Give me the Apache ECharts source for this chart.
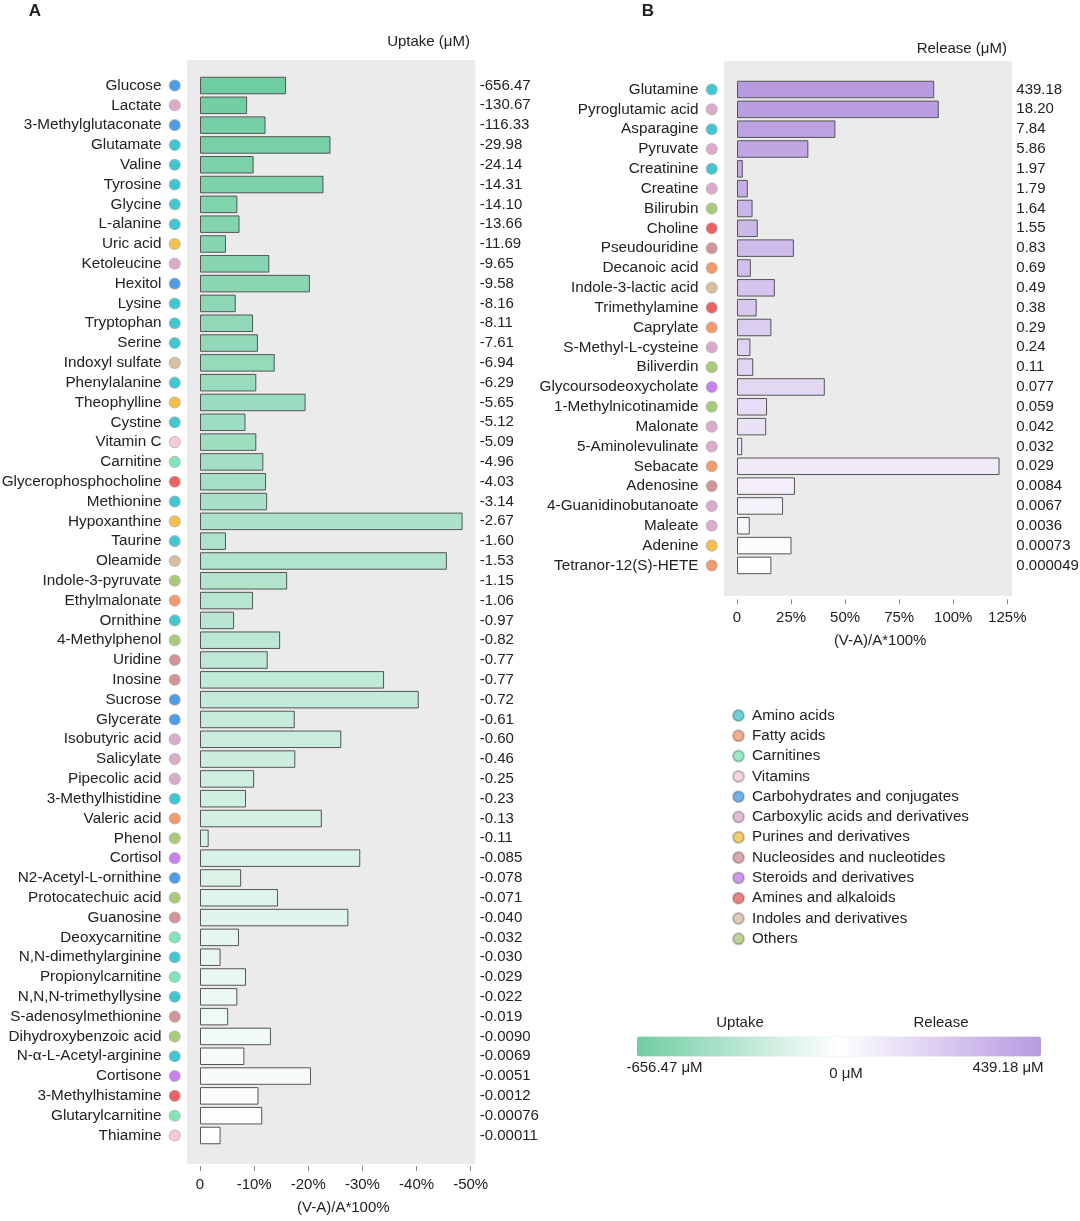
<!DOCTYPE html>
<html>
<head>
<meta charset="utf-8">
<script src="https://cdn.jsdelivr.net/npm/echarts@6/dist/echarts.min.js"></script>
<style>
html,body{margin:0;padding:0;background:#fff;}
#chart{width:1080px;height:1221px;}
</style>
</head>
<body>
<div id="chart"></div>
<script>
// ---------- DATA ----------
const classNames = ['Amino acids','Fatty acids','Carnitines','Vitamins','Carbohydrates and conjugates',
  'Carboxylic acids and derivatives','Purines and derivatives','Nucleosides and nucleotides',
  'Steroids and derivatives','Amines and alkaloids','Indoles and derivatives','Others'];
const classColors = ['#41c7d2','#f39a6f','#80e6b9','#f6c9d8','#4e9de6','#dcaacb','#f4c04a','#d39497',
  '#c880ee','#ec6262','#d8bf9f','#a9cb79'];

const uptakeNames = ['Glucose','Lactate','3-Methylglutaconate','Glutamate','Valine','Tyrosine','Glycine',
  'L-alanine','Uric acid','Ketoleucine','Hexitol','Lysine','Tryptophan','Serine','Indoxyl sulfate',
  'Phenylalanine','Theophylline','Cystine','Vitamin C','Carnitine','Glycerophosphocholine','Methionine',
  'Hypoxanthine','Taurine','Oleamide','Indole-3-pyruvate','Ethylmalonate','Ornithine','4-Methylphenol',
  'Uridine','Inosine','Sucrose','Glycerate','Isobutyric acid','Salicylate','Pipecolic acid',
  '3-Methylhistidine','Valeric acid','Phenol','Cortisol','N2-Acetyl-L-ornithine','Protocatechuic acid',
  'Guanosine','Deoxycarnitine','N,N-dimethylarginine','Propionylcarnitine','N,N,N-trimethyllysine',
  'S-adenosylmethionine','Dihydroxybenzoic acid','N-α-L-Acetyl-arginine','Cortisone','3-Methylhistamine',
  'Glutarylcarnitine','Thiamine'];
const uptakeClass = [4,5,4,0,0,0,0,0,6,5,4,0,0,0,10,0,6,0,3,2,9,0,6,0,10,11,1,0,11,7,7,4,4,5,5,5,0,1,11,8,
  4,11,7,2,0,2,0,7,11,0,8,9,2,3];
const uptakePct = [-15.9,-8.7,-12.1,-24.1,-9.9,-22.8,-6.9,-7.3,-4.8,-12.8,-20.3,-6.6,-9.8,-10.7,-13.8,
  -10.4,-19.5,-8.4,-10.4,-11.7,-12.2,-12.4,-48.5,-4.8,-45.6,-16.1,-9.8,-6.3,-14.8,-12.5,-34.0,-40.4,
  -17.5,-26.1,-17.6,-10.0,-8.5,-22.5,-1.6,-29.6,-7.6,-14.4,-27.4,-7.2,-3.8,-8.5,-6.9,-5.2,-13.1,-8.2,
  -20.5,-10.8,-11.5,-3.8];
const uptakeConc = ['-656.47','-130.67','-116.33','-29.98','-24.14','-14.31','-14.10','-13.66','-11.69',
  '-9.65','-9.58','-8.16','-8.11','-7.61','-6.94','-6.29','-5.65','-5.12','-5.09','-4.96','-4.03','-3.14',
  '-2.67','-1.60','-1.53','-1.15','-1.06','-0.97','-0.82','-0.77','-0.77','-0.72','-0.61','-0.60','-0.46',
  '-0.25','-0.23','-0.13','-0.11','-0.085','-0.078','-0.071','-0.040','-0.032','-0.030','-0.029','-0.022',
  '-0.019','-0.0090','-0.0069','-0.0051','-0.0012','-0.00076','-0.00011'];

const releaseNames = ['Glutamine','Pyroglutamic acid','Asparagine','Pyruvate','Creatinine','Creatine',
  'Bilirubin','Choline','Pseudouridine','Decanoic acid','Indole-3-lactic acid','Trimethylamine','Caprylate',
  'S-Methyl-L-cysteine','Biliverdin','Glycoursodeoxycholate','1-Methylnicotinamide','Malonate',
  '5-Aminolevulinate','Sebacate','Adenosine','4-Guanidinobutanoate','Maleate','Adenine','Tetranor-12(S)-HETE'];
const releaseClass = [0,5,0,5,0,5,11,9,7,1,10,9,1,5,11,8,11,5,5,1,7,5,5,6,1];
const releasePct = [91.2,93.3,45.5,33.0,2.7,5.0,7.2,9.6,26.3,6.4,17.5,9.1,15.9,6.2,7.5,40.6,13.9,13.5,
  2.4,121.4,26.8,21.3,5.9,25.2,15.9];
const releaseConc = ['439.18','18.20','7.84','5.86','1.97','1.79','1.64','1.55','0.83','0.69','0.49','0.38',
  '0.29','0.24','0.11','0.077','0.059','0.042','0.032','0.029','0.0084','0.0067','0.0036','0.00073','0.000049'];

const uptakeTicks = {min: -50, max: 0, interval: 10};
const releaseTicks = {min: 0, max: 125, interval: 25};
const colorbarRange = {min: -656.47, max: 439.18};

// ---------- STYLE ----------
const FONT = "'Liberation Sans', Arial, Helvetica, sans-serif";
const TXT = '#222';
const GREEN = [111, 205, 163];
const PURPLE = [183, 154, 224];

function mix(c, t) {
  const r = Math.round(c[0] + (255 - c[0]) * t);
  const g = Math.round(c[1] + (255 - c[1]) * t);
  const b = Math.round(c[2] + (255 - c[2]) * t);
  return 'rgb(' + r + ',' + g + ',' + b + ')';
}

const dotRich = {n: {fontSize: 15.3, fontFamily: FONT, color: TXT, padding: [0, 8, 0, 0]}};
classColors.forEach((c, i) => {
  dotRich['c' + i] = {width: 10.5, height: 10.5, borderRadius: 5.25, backgroundColor: c,
    borderColor: 'rgba(0,0,0,0.28)', borderWidth: 0.8};
});

function catAxis(names, classes, gridIndex) {
  return {
    type: 'category', gridIndex: gridIndex, data: names, inverse: true,
    axisLine: {show: false}, axisTick: {show: false}, splitLine: {show: false},
    axisLabel: {
      interval: 0, margin: 20, rich: dotRich,
      formatter: (v, i) => '{n|' + v + '}{c' + classes[i] + '| }'
    }
  };
}
function valAxis(labels, gridIndex) {
  return {
    type: 'category', gridIndex: gridIndex, data: labels, inverse: true, position: 'right',
    axisLine: {show: false}, axisTick: {show: false}, splitLine: {show: false},
    axisLabel: {interval: 0, margin: 9, fontSize: 15, fontFamily: FONT, color: TXT, align: 'left'}
  };
}
function xAxis(t, gridIndex, inverse, offset) {
  return {
    type: 'value', gridIndex: gridIndex, min: t.min, max: t.max, interval: t.interval, inverse: inverse,
    offset: offset,
    axisLine: {show: false},
    axisTick: {show: true, length: 5, lineStyle: {color: '#8a8a8a', width: 1}},
    splitLine: {show: false},
    axisLabel: {fontSize: 15, fontFamily: FONT, color: TXT, margin: 11,
      formatter: v => v === 0 ? '0' : v + '%'},
    name: '(V-A)/A*100%', nameLocation: 'middle', nameGap: 34,
    nameTextStyle: {fontSize: 15, fontFamily: FONT, color: TXT, padding: [0, 0, 0, 16]}
  };
}

const uptakeData = uptakePct.map((v, i) => ({value: v,
  itemStyle: {color: mix(GREEN, i / (uptakePct.length - 1))}}));
const releaseData = releasePct.map((v, i) => ({value: v,
  itemStyle: {color: mix(PURPLE, i / (releasePct.length - 1))}}));

const series = [
  {type: 'bar', name: 'Uptake', xAxisIndex: 0, yAxisIndex: 0, data: uptakeData, barWidth: 17.5,
   itemStyle: {borderColor: '#555555', borderWidth: 1}, silent: true},
  {type: 'bar', name: 'Release', xAxisIndex: 1, yAxisIndex: 2, data: releaseData, barWidth: 17.5,
   itemStyle: {borderColor: '#555555', borderWidth: 1}, silent: true}
];
classNames.forEach((nm, i) => {
  series.push({type: 'scatter', name: nm, xAxisIndex: 0, yAxisIndex: 0, data: [],
    itemStyle: {color: classColors[i], borderColor: 'rgba(0,0,0,0.28)', borderWidth: 0.8}});
});
series.push({type: 'scatter', name: 'colorbar', xAxisIndex: 0, yAxisIndex: 0, data: []});
const colorbarSeriesIndex = series.length - 1;

const textEl = (text, x, y, align, size, bold) => ({
  type: 'text', x: x, y: y, silent: true,
  style: {text: text, font: (bold ? 'bold ' : '') + size + 'px ' + FONT, fill: TXT,
    textAlign: align, align: align, textVerticalAlign: 'middle', verticalAlign: 'middle'}
});

const option = {
  animation: false,
  backgroundColor: '#fff',
  textStyle: {fontFamily: FONT},
  grid: [
    {left: 200, top: 75.6, width: 270.7, height: 1069.8, outerBoundsMode: 'none', containLabel: false},
    {left: 737, top: 79.6, width: 270.3, height: 495.75, outerBoundsMode: 'none', containLabel: false}
  ],
  xAxis: [xAxis(uptakeTicks, 0, true, 20.5), xAxis(releaseTicks, 1, false, 24)],
  yAxis: [catAxis(uptakeNames, uptakeClass, 0), valAxis(uptakeConc, 0),
          catAxis(releaseNames, releaseClass, 1), valAxis(releaseConc, 1)],
  legend: {
    data: classNames, orient: 'vertical', left: 732, top: 708, icon: 'circle',
    itemWidth: 11, itemHeight: 11, itemGap: 5.3, selectedMode: false, padding: 0,
    textStyle: {fontSize: 15.2, fontFamily: FONT, color: TXT, padding: [0, 0, 0, 3]}
  },
  visualMap: {
    type: 'continuous', seriesIndex: colorbarSeriesIndex, min: colorbarRange.min, max: colorbarRange.max,
    orient: 'horizontal', left: 637, top: 1036.5, itemWidth: 20, itemHeight: 404, padding: 0,
    calculable: false, hoverLink: false, text: null, showLabel: false,
    inRange: {color: ['rgb(111,205,163)', '#ffffff', 'rgb(183,154,224)']}
  },
  graphic: [
    {type: 'rect', z: -10, silent: true, shape: {x: 187, y: 60, width: 288.5, height: 1104}, style: {fill: '#ebebeb'}},
    {type: 'rect', z: -10, silent: true, shape: {x: 724, y: 61, width: 288, height: 535}, style: {fill: '#ebebeb'}},
    textEl('A', 35, 11, 'center', 17, true),
    textEl('B', 648, 11, 'center', 17, true),
    textEl('Uptake (μM)', 470, 42, 'right', 15),
    textEl('Release (μM)', 1007, 49, 'right', 15),
    textEl('Uptake', 740, 1022.5, 'center', 15),
    textEl('Release', 941, 1022.5, 'center', 15),
    textEl('-656.47 μM', 664.5, 1068, 'center', 15),
    textEl('0 μM', 846, 1073.5, 'center', 15),
    textEl('439.18 μM', 1008, 1068, 'center', 15)
  ],
  series: series
};

const chart = echarts.init(document.getElementById('chart'), null, {renderer: 'canvas'});
chart.setOption(option);
</script>
</body>
</html>
